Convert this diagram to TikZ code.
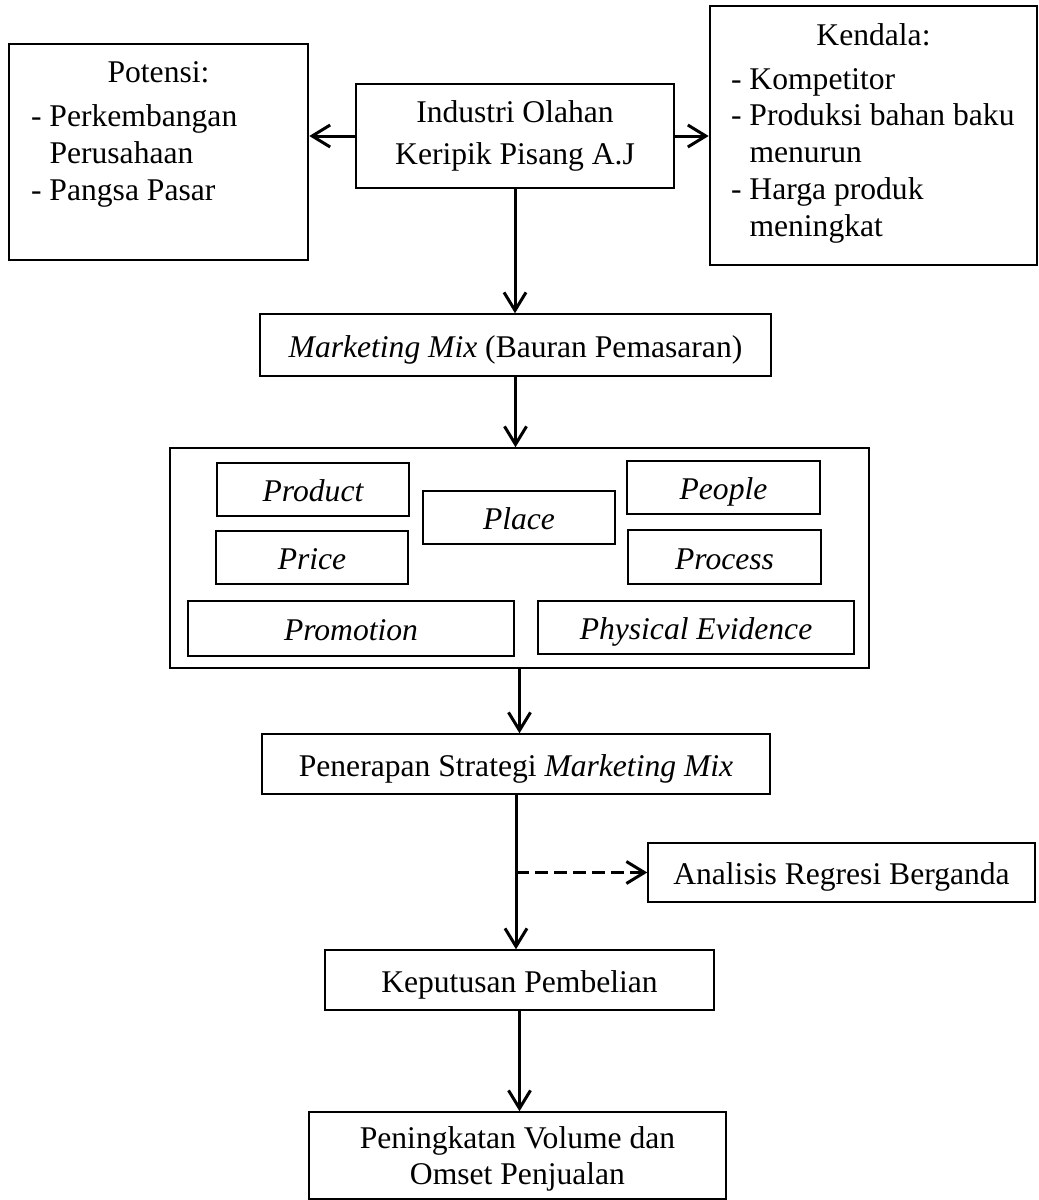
\documentclass[tikz,border=0pt]{standalone}
\usepackage{fontspec}
\setmainfont{Liberation Serif}
\usetikzlibrary{positioning,arrows.meta}

\begin{document}
\begin{tikzpicture}[x=0.5pt, y=-0.5pt,
  font=\fontsize{15.8}{18.4}\selectfont,
  box/.style={rectangle, draw, line width=0.75pt, inner sep=0pt, align=center},
  sbox/.style={box, text height=12.5pt, text depth=0.5pt},
  pbox/.style={sbox, minimum height=26.5pt, font=\fontsize{15.8}{18.4}\selectfont\itshape},
  outer/.style={rectangle, draw, line width=1.3pt, inner sep=0pt},
  ttl/.style={anchor=base, inner sep=0pt},
  lst/.style={anchor=north west, align=left, inner sep=0pt},
  arr/.style={line width=1.5pt, -{Straight Barb[length=9pt, width=11pt]}}
]
\useasboundingbox (0,0) rectangle (1039,1200);

% top row
\node[outer, minimum width=149.5pt, minimum height=108pt] (pot) at (158.5,152) {};
\node[ttl] (potT) at ([yshift=-20pt]pot.north) {Potensi:};
\node[lst] (potL) at ([xshift=11.5pt,yshift=-30.7pt]pot.north west)
  {- Perkembangan\\\hphantom{- }Perusahaan\\- Pangsa Pasar};

\node[box, minimum width=159pt, minimum height=52pt] (ind) at (515,136)
  {Industri Olahan\\[2.2pt]Keripik Pisang A.J};

\node[outer, minimum width=163.5pt, minimum height=129.5pt] (ken) at (873.5,135.5) {};
\node[ttl] (kenT) at ([yshift=-20.5pt]ken.north) {Kendala:};
\node[lst] (kenL) at ([xshift=11pt,yshift=-31.5pt]ken.north west)
  {- Kompetitor\\- Produksi bahan baku\\\hphantom{- }menurun\\- Harga produk\\\hphantom{- }meningkat};

\node[sbox, minimum width=255.5pt, minimum height=31pt] (mm) at (515.5,345)
  {\itshape Marketing Mix \upshape(Bauran Pemasaran)};

% 7P
\node[box, minimum width=349.5pt, minimum height=110pt] (mix) at (519.5,558) {};
\node[pbox, minimum width=96pt] (prod) at (313,489.5) {Product};
\node[pbox, minimum width=96pt] (price) at (312,557.5) {Price};
\node[pbox, minimum width=96pt] (place) at (519,517.5) {Place};
\node[pbox, minimum width=96.5pt] (people) at (723.5,487.5) {People};
\node[pbox, minimum width=96.5pt, minimum height=27pt] (proc) at (724.5,557) {Process};
\node[pbox, minimum width=163pt, minimum height=27.5pt] (promo) at (351,628.5) {Promotion};
\node[pbox, minimum width=158pt] (phys) at (696,627.5) {Physical Evidence};

% bottom chain
\node[sbox, minimum width=254pt, minimum height=30pt] (pen) at (516,764)
  {Penerapan Strategi \textit{Marketing Mix}};
\node[sbox, minimum width=193.5pt, minimum height=29.5pt] (ana) at (841.5,872.5)
  {Analisis Regresi Berganda};
\node[sbox, minimum width=194.5pt, minimum height=30pt] (kep) at (519.5,980)
  {Keputusan Pembelian};
\node[box, minimum width=208.5pt, minimum height=43.5pt, text depth=0pt] (pnk) at (517.5,1155.5)
  {Peningkatan Volume dan\\Omset Penjualan};

% arrows
\draw[arr] (ind.west) -- (ind.west -| pot.east);
\draw[arr] (ind.east) -- (ind.east -| ken.west);
\draw[arr] (ind.south) -- (ind.south |- mm.north);
\draw[arr] (mm.south) -- (mm.south |- mix.north);
\draw[arr] (mix.south) -- (mix.south |- pen.north);
\draw[arr] (pen.south) -- (pen.south |- kep.north);
\coordinate (split) at (pen.south |- ana.west);
\draw[arr, dash pattern=on 6.5pt off 3pt] (split) -- (ana.west);
\draw[arr] (kep.south) -- (kep.south |- pnk.north);
\end{tikzpicture}
\end{document}
